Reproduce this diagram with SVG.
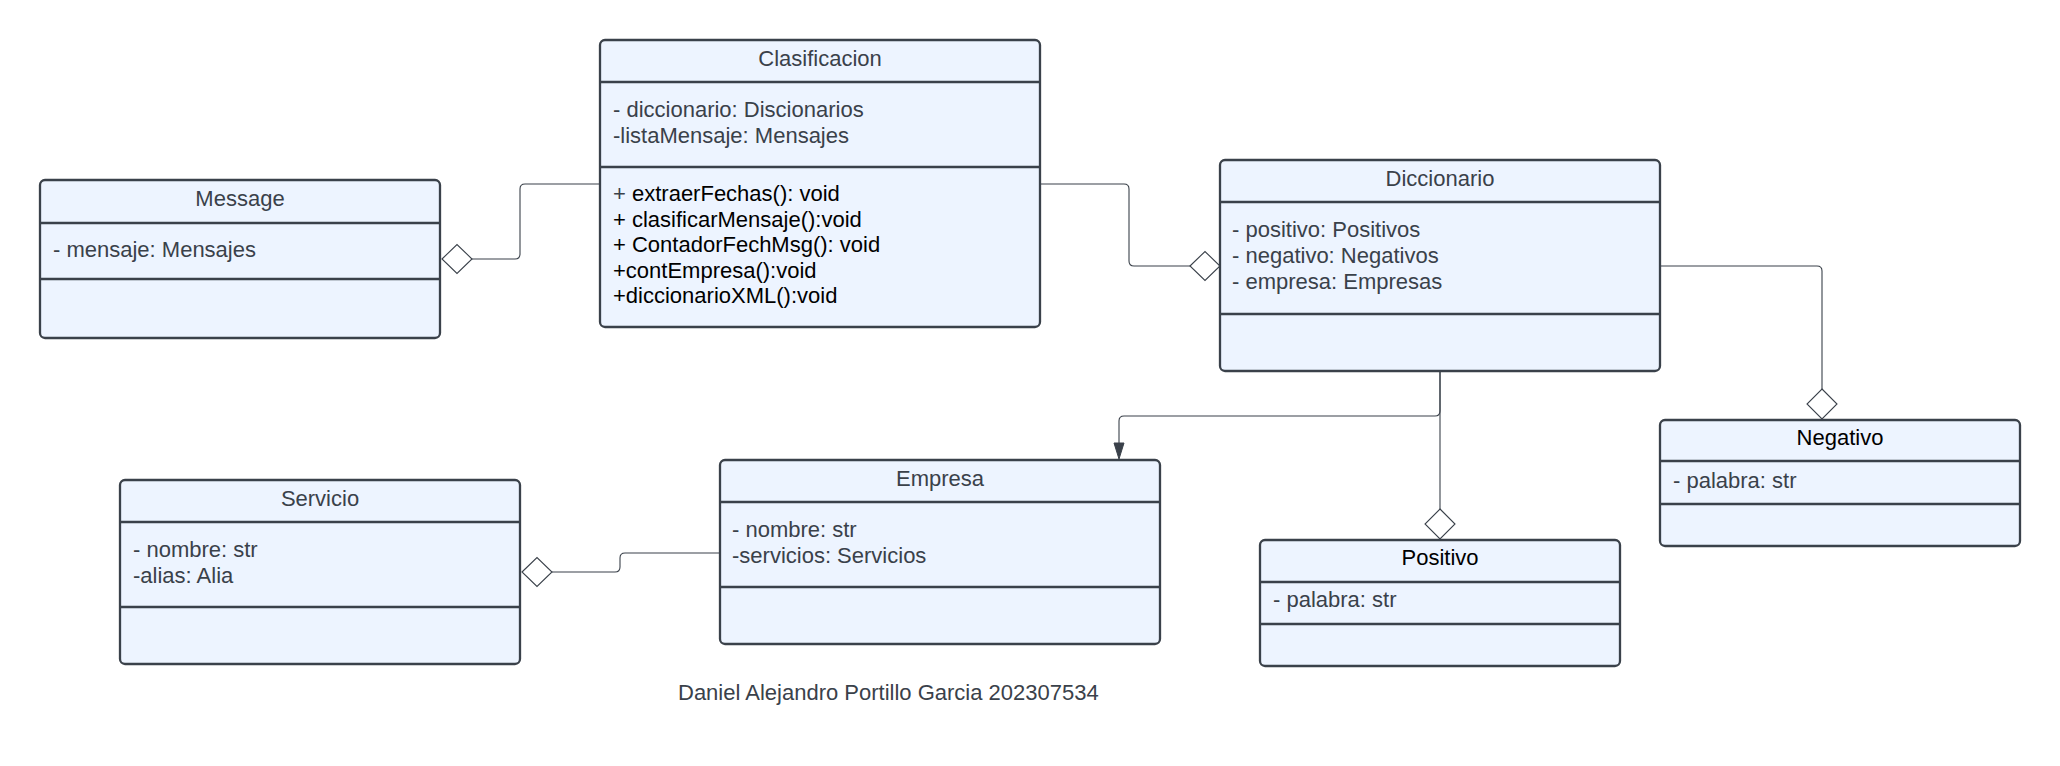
<svg xmlns="http://www.w3.org/2000/svg" width="2060" height="766" viewBox="0 0 2060 766">
<style>
.box{fill:#edf4ff;stroke:#3a414a;stroke-width:2.3}
.div{stroke:#3a414a;stroke-width:2.3;fill:none}
.t{font-family:"Liberation Sans",Arial,sans-serif;font-size:22px;fill:#3a414a}
.c{text-anchor:middle}
.k{fill:#000}
.ln{fill:none;stroke:#3a414a;stroke-width:1.1}
.dia{fill:#fff;stroke:#3a414a;stroke-width:1.1}
</style>
<rect width="2060" height="766" fill="#fff"/>
<g id="connectors">
<path class="ln" d="M600,184 H525 Q520,184 520,189 V254 Q520,259 515,259 H472"/>
<polygon class="dia" points="442,259 457,244.5 472,259 457,273.5"/>
<path class="ln" d="M1040,184 H1124 Q1129,184 1129,189 V261 Q1129,266 1134,266 H1190"/>
<polygon class="dia" points="1190,266 1205,251.5 1220,266 1205,280.5"/>
<path class="ln" d="M1660,266 H1817 Q1822,266 1822,271 V389"/>
<polygon class="dia" points="1822,389 1837,404 1822,419 1807,404"/>
<path class="ln" d="M1440,371 V509"/>
<polygon class="dia" points="1440,509 1455,524 1440,539 1425,524"/>
<path class="ln" d="M1440,371 V411 Q1440,416 1435,416 H1124 Q1119,416 1119,421 V445"/>
<polygon points="1119,459 1114,443 1124,443" fill="#3a414a" stroke="#3a414a" stroke-width="1"/>
<path class="ln" d="M720,553 H625 Q620,553 620,558 V567 Q620,572 615,572 H552"/>
<polygon class="dia" points="522,572 537,557.5 552,572 537,586.5"/>
</g>
<g id="Message">
<rect class="box" x="40" y="180" width="400" height="158" rx="5"/>
<path class="div" d="M40,223 H440 M40,279 H440"/>
<text class="t c" x="240" y="206">Message</text>
<text class="t" x="53" y="257">- mensaje: Mensajes</text>
</g>
<g id="Clasificacion">
<rect class="box" x="600" y="40" width="440" height="287" rx="5"/>
<path class="div" d="M600,82 H1040 M600,167 H1040"/>
<text class="t c" x="820" y="66">Clasificacion</text>
<text class="t" x="613" y="117">- diccionario: Discionarios</text>
<text class="t" x="613" y="143">-listaMensaje: Mensajes</text>
<text class="t k" x="613" y="201"><tspan fill="#3a414a">+ </tspan>extraerFechas(): void</text>
<text class="t k" x="613" y="227">+ clasificarMensaje():void</text>
<text class="t k" x="613" y="252">+ ContadorFechMsg(): void</text>
<text class="t k" x="613" y="278">+contEmpresa():void</text>
<text class="t k" x="613" y="303">+diccionarioXML():void</text>
</g>
<g id="Diccionario">
<rect class="box" x="1220" y="160" width="440" height="211" rx="5"/>
<path class="div" d="M1220,202 H1660 M1220,314 H1660"/>
<text class="t c" x="1440" y="186">Diccionario</text>
<text class="t" x="1232" y="237">- positivo: Positivos</text>
<text class="t" x="1232" y="263">- negativo: Negativos</text>
<text class="t" x="1232" y="289">- empresa: Empresas</text>
</g>
<g id="Negativo">
<rect class="box" x="1660" y="420" width="360" height="126" rx="5"/>
<path class="div" d="M1660,461 H2020 M1660,504 H2020"/>
<text class="t c k" x="1840" y="445">Negativo</text>
<text class="t" x="1673" y="488">- palabra: str</text>
</g>
<g id="Positivo">
<rect class="box" x="1260" y="540" width="360" height="126" rx="5"/>
<path class="div" d="M1260,582 H1620 M1260,624 H1620"/>
<text class="t c k" x="1440" y="565">Positivo</text>
<text class="t" x="1273" y="607">- palabra: str</text>
</g>
<g id="Empresa">
<rect class="box" x="720" y="460" width="440" height="184" rx="5"/>
<path class="div" d="M720,502 H1160 M720,587 H1160"/>
<text class="t c" x="940" y="486">Empresa</text>
<text class="t" x="732" y="537">- nombre: str</text>
<text class="t" x="732" y="563">-servicios: Servicios</text>
</g>
<g id="Servicio">
<rect class="box" x="120" y="480" width="400" height="184" rx="5"/>
<path class="div" d="M120,522 H520 M120,607 H520"/>
<text class="t c" x="320" y="506">Servicio</text>
<text class="t" x="133" y="557">- nombre: str</text>
<text class="t" x="133" y="583">-alias: Alia</text>
</g>
<g id="footer">
<text class="t" x="678" y="700">Daniel Alejandro Portillo Garcia 202307534</text>
</g>
</svg>
